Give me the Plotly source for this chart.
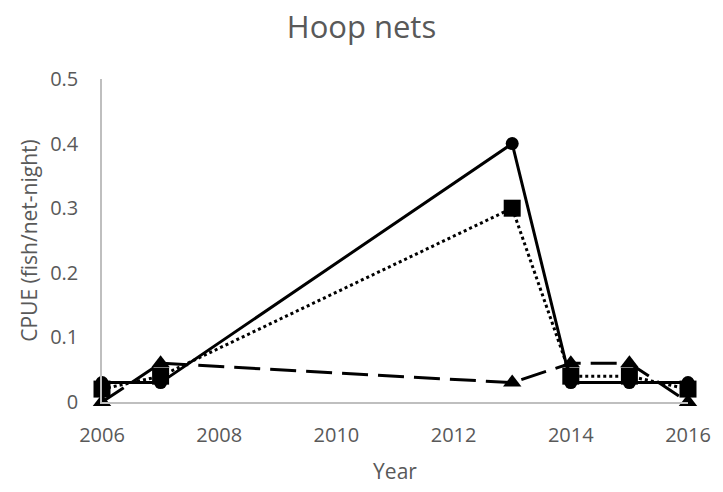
import plotly.graph_objects as go

years = [2006, 2007, 2013, 2014, 2015, 2016]
cpue_circle = [0.03, 0.03, 0.40, 0.03, 0.03, 0.03]
cpue_square = [0.02, 0.04, 0.30, 0.04, 0.04, 0.02]
cpue_triangle = [0.00, 0.06, 0.03, 0.06, 0.06, 0.00]

x_ticks = [2006, 2008, 2010, 2012, 2014, 2016]
y_ticks = [0, 0.1, 0.2, 0.3, 0.4, 0.5]
y_tick_text = ["0", "0.1", "0.2", "0.3", "0.4", "0.5"]

font_family = "Open Sans, Noto Sans, sans-serif"
grey = "#595959"

fig = go.Figure()

fig.add_trace(go.Scatter(
    x=years, y=cpue_circle, mode="lines+markers",
    line=dict(color="black", width=3, dash="solid"),
    marker=dict(symbol="circle", size=13, color="black"),
    cliponaxis=False, showlegend=False,
))
fig.add_trace(go.Scatter(
    x=years, y=cpue_square, mode="lines+markers",
    line=dict(color="black", width=3, dash="dot"),
    marker=dict(symbol="square", size=17, color="black"),
    cliponaxis=False, showlegend=False,
))
fig.add_trace(go.Scatter(
    x=years, y=cpue_triangle, mode="lines+markers",
    line=dict(color="black", width=3, dash="26px,10px"),
    marker=dict(symbol="triangle-up", size=16, color="black"),
    cliponaxis=False, showlegend=False,
))

fig.update_layout(
    width=723, height=492,
    margin=dict(l=102, r=32, t=79, b=88),
    paper_bgcolor="white", plot_bgcolor="white",
    title=dict(text="Hoop nets", x=0.5, xanchor="center", y=1 - 27 / 492, yanchor="middle",
               font=dict(family=font_family, size=31, color=grey)),
    font=dict(family=font_family, color=grey),
)
fig.update_xaxes(
    range=[2006, 2016], tickvals=x_ticks, ticktext=[str(v) for v in x_ticks],
    showgrid=False, zeroline=False, showline=True, linecolor="#bfbfbf", linewidth=1.5,
    ticks="", ticklabelstandoff=14, tickfont=dict(size=20, color=grey),
    title=dict(text="Year", font=dict(size=21, color=grey), standoff=18),
)
fig.update_yaxes(
    range=[0, 0.5], tickvals=y_ticks, ticktext=y_tick_text,
    showgrid=False, zeroline=False, showline=True, linecolor="#bfbfbf", linewidth=1.5,
    ticks="", ticklabelstandoff=18, tickfont=dict(size=20, color=grey),
    title=dict(text="CPUE (fish/net-night)", font=dict(size=21, color=grey), standoff=7),
)

fig.write_html("out.html")
